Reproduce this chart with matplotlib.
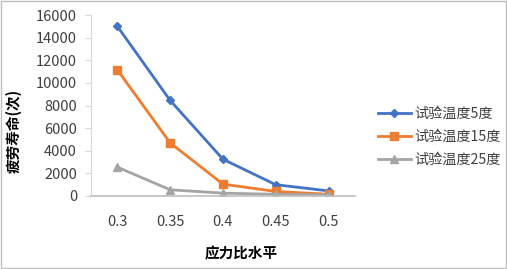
import matplotlib
matplotlib.use("Agg")
import matplotlib.pyplot as plt
from matplotlib.patches import Rectangle

plt.rcParams['font.family'] = ['Noto Sans CJK SC', 'DejaVu Sans']

stress = ['0.3', '0.35', '0.4', '0.45', '0.5']
life_5 = [15000, 8450, 3250, 1000, 450]
life_15 = [11150, 4700, 1050, 400, 150]
life_25 = [2550, 550, 250, 150, 100]

fig = plt.figure(figsize=(5.07, 2.69), dpi=100)
ax = fig.add_axes([0.1795, 0.2714, 0.5205, 0.6726])

x = range(len(stress))
ax.plot(x, life_5, color='#4472C4', lw=2, marker='D', ms=4.5, label='试验温度5度')
ax.plot(x, life_15, color='#ED7D31', lw=2, marker='s', ms=5.5, label='试验温度15度')
ax.plot(x, life_25, color='#A5A5A5', lw=2, marker='^', ms=5.5, label='试验温度25度')

ax.set_xlim(-0.5, 4.5)
ax.set_ylim(0, 16000)
ax.set_yticks(range(0, 16001, 2000))
ax.set_xticks(list(x))
ax.set_xticklabels(stress)

for s in ['top', 'right']:
    ax.spines[s].set_visible(False)
ax.spines['left'].set_color('#D9D9D9')
ax.spines['bottom'].set_color('#BFBFBF')
ax.spines['bottom'].set_linewidth(1.2)
ax.tick_params(axis='y', labelsize=10.5, length=4, pad=6, color='#D9D9D9', labelcolor='#404040')
ax.tick_params(axis='x', labelsize=10.5, length=0, pad=14, labelcolor='#404040')

ax.set_ylabel('疲劳寿命(次)', fontsize=10.5, fontweight='bold')
ax.set_xlabel('应力比水平', fontsize=10.5, fontweight='bold')
ax.yaxis.set_label_coords(-0.295, 0.36)
ax.xaxis.set_label_coords(0.568, -0.32)
ax.yaxis.label.set_va('center')
ax.xaxis.label.set_va('center')

ax.legend(loc='center left', bbox_to_anchor=(1.04, 0.326), frameon=False,
          fontsize=10.2, handlelength=2.3, handletextpad=0.25, labelspacing=0.62,
          labelcolor='#404040')

fig.patches.append(Rectangle((0.001, 0.002), 0.997, 0.995, transform=fig.transFigure,
                             fill=False, edgecolor='#BFBFBF', lw=1))

fig.savefig('out.png', dpi=100)
